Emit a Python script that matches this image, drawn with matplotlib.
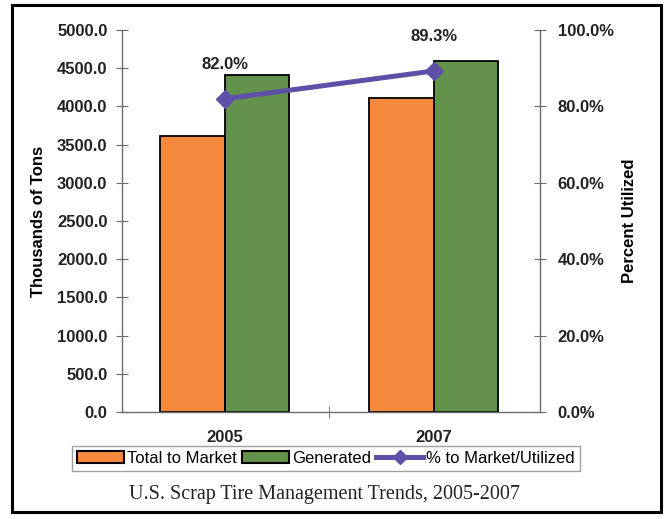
import numpy as np
import matplotlib.pyplot as plt
from matplotlib.patches import Rectangle
from matplotlib.lines import Line2D

years = ["2005", "2007"]
total_to_market = [3616.0, 4105.8]
generated = [4410.0, 4595.8]
pct_utilized = [82.0, 89.3]

orange = "#F7893F"
green = "#63934B"
purple = "#5E4FA8"
axis_gray = "#6b6b6b"
fs = 12

plt.rcParams['font.family'] = ['Liberation Sans', 'DejaVu Sans']

fig = plt.figure(figsize=(6.67, 5.19), dpi=100)
ax = fig.add_axes([0.183, 0.206, 0.627, 0.736])
ax2 = ax.twinx()

x = np.arange(len(years))
w = 0.31
ax.bar(x - w / 2, total_to_market, w, color=orange, edgecolor="black", linewidth=1.3, zorder=2)
ax.bar(x + w / 2, generated, w, color=green, edgecolor="black", linewidth=1.3, zorder=2)

ax2.plot(x, [p / 100 for p in pct_utilized], color=purple, lw=3.6, marker="D", ms=9, zorder=3)
for xi, p in zip(x, pct_utilized):
    ax2.annotate(f"{p:.1f}%", (xi, p / 100), xytext=(0, 25), textcoords="offset points",
                 ha="center", va="center", fontsize=fs, fontweight="bold", color="#222222")

ax.set_xlim(-0.49, 1.51)
ax.set_ylim(0, 5000)
ax2.set_ylim(0, 1)

ax.set_yticks(np.arange(0, 5001, 500))
ax.set_yticklabels([f"{v:.1f}" for v in np.arange(0, 5001, 500)])
ax2.set_yticks(np.arange(0, 1.01, 0.2))
ax2.set_yticklabels([f"{v * 100:.1f}%" for v in np.arange(0, 1.01, 0.2)])

ax.set_xticks(x)
ax.set_xticklabels(years)
ax.set_xticks([0.5], minor=True)
ax.tick_params(axis="x", which="major", length=0, pad=13, labelsize=fs)
ax.tick_params(axis="x", which="minor", direction="inout", length=8, color=axis_gray)
ax.tick_params(axis="y", direction="inout", length=9, color=axis_gray, pad=6, labelsize=fs)
ax2.tick_params(axis="y", direction="inout", length=9, color=axis_gray, pad=8, labelsize=fs)
for lab in ax.get_xticklabels() + ax.get_yticklabels() + ax2.get_yticklabels():
    lab.set_fontweight("bold")
    lab.set_color("#222222")

for a in (ax, ax2):
    a.spines["top"].set_visible(False)
    for s in ("left", "right", "bottom"):
        a.spines[s].set_color(axis_gray)
        a.spines[s].set_linewidth(1.0)
ax.spines["right"].set_visible(False)
ax2.spines["left"].set_visible(False)
ax2.spines["bottom"].set_visible(False)

ax.set_ylabel("Thousands of Tons", fontsize=fs, fontweight="bold", labelpad=8)
ax2.set_ylabel("Percent Utilized", fontsize=fs, fontweight="bold", labelpad=6)

handles = [
    Rectangle((0, 0), 1, 1, facecolor=orange, edgecolor="black", linewidth=1.5),
    Rectangle((0, 0), 1, 1, facecolor=green, edgecolor="black", linewidth=1.5),
    Line2D([], [], color=purple, lw=3.6, marker="D", ms=7),
]
fig.legend(handles, ["Total to Market", "Generated", "% to Market/Utilized"],
           loc="center", bbox_to_anchor=(0.489, 0.117), ncol=3, fontsize=fs,
           frameon=True, fancybox=False, edgecolor="#888888", handlelength=2.8,
           handletextpad=0.2, columnspacing=0.3, borderpad=0.3)

fig.text(0.486, 0.048, "U.S. Scrap Tire Management Trends, 2005-2007", ha="center", va="center",
         fontsize=14.5, family="Liberation Serif", color="#222222")

fig.patches.append(Rectangle((0.018, 0.013), 0.973, 0.978, transform=fig.transFigure,
                             fill=False, edgecolor="black", linewidth=2.2))

fig.savefig("out.png", dpi=100)
